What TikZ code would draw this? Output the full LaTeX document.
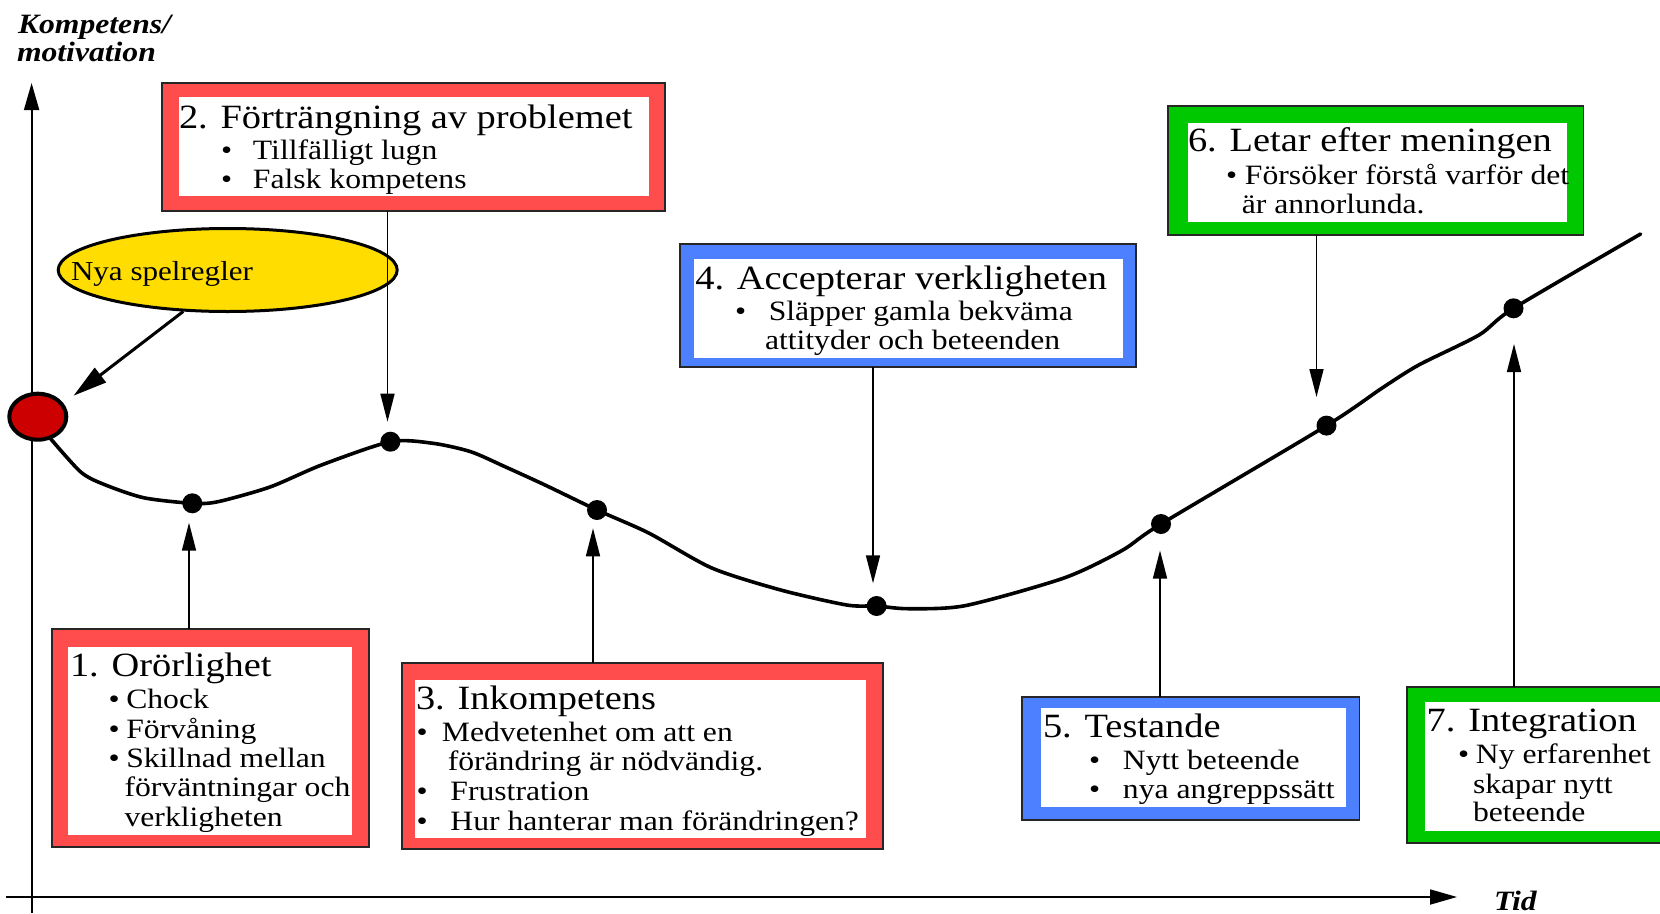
\documentclass[tikz,border=0pt]{standalone}
\usepackage{fontspec}
\setmainfont{Liberation Serif}[FakeStretch=1.13]
\usetikzlibrary{arrows.meta,shapes.geometric}

\definecolor{boxred}{HTML}{FF4D4D}
\definecolor{boxblue}{HTML}{4D80FF}
\definecolor{boxgreen}{HTML}{00C800}
\definecolor{labelyellow}{HTML}{FFDD00}
\definecolor{startred}{HTML}{CC0000}

\newcommand{\fsz}[1]{\fontsize{#1}{#1}\selectfont}
\newcommand{\bitem}[1]{\makebox[#1pt][l]{\textbullet}}

\begin{document}
\begin{tikzpicture}[x=1pt, y=-1pt,
  frame/.style={draw=black!85, line width=1.8pt, inner sep=0pt, outer sep=0pt},
  txt/.style={anchor=base west, inner sep=0pt, outer sep=0pt},
  head/.style={txt, font=\fsz{34}},
  item/.style={txt, font=\fsz{28}},
  axlabel/.style={txt, font=\fsz{28}\bfseries\itshape},
  dot/.style={circle, fill=black, inner sep=0pt, minimum size=20pt},
  conn/.style={line width=1.6pt, -{Triangle[length=28pt,width=14pt]}},
  axis/.style={line width=1.8pt, -{Triangle[length=27pt,width=15pt]}},
  curve/.style={line width=3.6pt, line join=round, line cap=round}]

\useasboundingbox (0,0) rectangle (1660,913);
\clip (0,0) rectangle (1660,913);

% axes
\coordinate (yfoot) at (31.6,913);
\coordinate (ytip) at (31.6,83);
\coordinate (xfoot) at (6,897);
\coordinate (xtip) at (1457,897);
\draw[axis] (yfoot) -- (ytip);
\draw[axis] (xfoot) -- (xtip);
\node[axlabel] (ylab1) at (18,33) {Kompetens/};
\node[axlabel] (ylab2) at (17,61.7) {motivation};
\node[axlabel] (xlab) at (1494,910) {Tid};

% the change curve
\draw[curve] plot[smooth, tension=0.45] coordinates {
  (50,438) (80.4,471.7) (103,484) (143.5,497.7) (192.3,503.3) (218,501.7)
  (270,487) (321.5,465) (390.4,441.7) (433,443.3) (470.7,451.7) (505,466.7)
  (545,485) (597,510) (648.7,533) (711.8,568) (780.7,590) (846.7,605)
  (876.6,606) (908,608.7) (965.5,605.6) (1064,578) (1122,550.5) (1161,524)
  (1326.5,425.6) (1381.7,388.3) (1418.7,365) (1479,335) (1513.5,308.3)
  (1640.6,234)};

% starting point
\node[ellipse, draw=black, line width=4pt, fill=startred, inner sep=0pt,
      minimum width=57pt, minimum height=46pt] (start) at (37.8,416.7) {};

% phase points on the curve
\node[dot] (d1) at (192.3,503.3) {};
\node[dot] (d2) at (390.4,441.7) {};
\node[dot] (d3) at (597,510) {};
\node[dot] (d4) at (876.6,606) {};
\node[dot] (d5) at (1161,524) {};
\node[dot] (d6) at (1326.5,425.6) {};
\node[dot] (d7) at (1513.5,308.3) {};

% new rules of the game
\node[ellipse, draw=black, line width=3pt, fill=labelyellow, inner sep=0pt,
      minimum width=339pt, minimum height=83pt] (nya) at (227.7,270) {};
\node[txt, font=\fsz{27.5}] (nyatxt) at (71,280) {Nya spelregler};
\coordinate (tip0) at (73.5,395.7);
\draw[line width=3pt, -{Triangle[length=34pt,width=18pt]}] (nya.223.7) -- (tip0);

% boxes: coloured frame with a white panel
\node[frame, fill=boxred, minimum width=317.3pt, minimum height=218pt] (B1) at (210.35,738.3) {};
\fill[white] (67.7,646.7) rectangle (352,835);
\node[frame, fill=boxred, minimum width=503.4pt, minimum height=128pt] (B2) at (413.3,146.7) {};
\fill[white] (178.6,97) rectangle (648.7,196);
\node[frame, fill=boxred, minimum width=481.2pt, minimum height=186.6pt] (B3) at (642.4,756) {};
\fill[white] (414.5,680) rectangle (865.7,838);
\node[frame, fill=boxblue, minimum width=455.5pt, minimum height=122.7pt] (B4) at (908.05,305.35) {};
\fill[white] (694,259.3) rectangle (1122.8,357.7);
\node[frame, fill=boxblue, minimum width=337.4pt, minimum height=123.3pt] (B5) at (1190.7,758.35) {};
\fill[white] (1040.7,708.3) rectangle (1345.6,806.7);
\node[frame, fill=boxgreen, minimum width=415.8pt, minimum height=129.3pt] (B6) at (1375.5,170.35) {};
\fill[white] (1187.8,122.7) rectangle (1567,221.7);
\node[frame, fill=boxgreen, minimum width=293.3pt, minimum height=155.4pt] (B7) at (1553.35,765) {};
\fill[white] (1425,702) rectangle (1700,830.7);

% arrow tips next to the phase points
\coordinate (t1) at (189,522.7);
\coordinate (t2) at (387.5,421.7);
\coordinate (t3) at (593,528.3);
\coordinate (t4) at (873,583.3);
\coordinate (t5) at (1160,550.5);
\coordinate (t6) at (1316.5,397);
\coordinate (t7) at (1514,344);

\draw[conn] (B1.north -| t1) -- (t1);
\draw[conn] (B2.south -| t2) -- (t2);
\draw[conn] (B3.north -| t3) -- (t3);
\draw[conn] (B4.south -| t4) -- (t4);
\draw[conn] (B5.north -| t5) -- (t5);
\draw[conn] (B6.south -| t6) -- (t6);
\draw[conn] (B7.north -| t7) -- (t7);

% box texts
\node[head] (h1) at (70,676.7) {1. Orörlighet};
\node[item] (h1a) at (108.5,708.3) {\bitem{17.8}Chock};
\node[item] (h1b) at (108.5,738.3) {\bitem{17.8}Förvåning};
\node[item] (h1c) at (108.5,767.3) {\bitem{17.8}Skillnad mellan};
\node[item] (h1d) at (124.6,796.7) {förväntningar och};
\node[item] (h1e) at (124.6,826) {verkligheten};

\node[head] (h2) at (179,128) {2. Förträngning av problemet};
\node[item] (h2a) at (221,159.5) {\bitem{32}Tillfälligt lugn};
\node[item] (h2b) at (221,188.3) {\bitem{32}Falsk kompetens};

\node[head] (h3) at (416,709.3) {3. Inkompetens};
\node[item] (h3a) at (416.5,741.7) {\bitem{25.5}Medvetenhet om att en};
\node[item] (h3b) at (447.8,770.7) {förändring är nödvändig.};
\node[item] (h3c) at (416.5,800.7) {\bitem{34}Frustration};
\node[item] (h3d) at (416.5,830) {\bitem{34}Hur hanterar man förändringen?};

\node[head] (h4) at (695.3,289.3) {4. Accepterar verkligheten};
\node[item] (h4a) at (735,320) {\bitem{33.8}Släpper gamla bekväma};
\node[item] (h4b) at (765,349.3) {attityder och beteenden};

\node[head] (h5) at (1043,737.3) {5. Testande};
\node[item] (h5a) at (1089,769.3) {\bitem{34}Nytt beteende};
\node[item] (h5b) at (1089,798.7) {\bitem{34}nya angreppssätt};

\node[head] (h6) at (1188,151.7) {6. Letar efter meningen};
\node[item] (h6a) at (1226,184) {\bitem{19}Försöker förstå varför det};
\node[item] (h6b) at (1241.8,213.3) {är annorlunda.};

\node[head] (h7) at (1426.7,731.7) {7. Integration};
\node[item] (h7a) at (1458,763.3) {\bitem{18}Ny erfarenhet};
\node[item] (h7b) at (1473,793) {skapar nytt};
\node[item] (h7c) at (1473,821.7) {beteende};

\end{tikzpicture}
\end{document}
